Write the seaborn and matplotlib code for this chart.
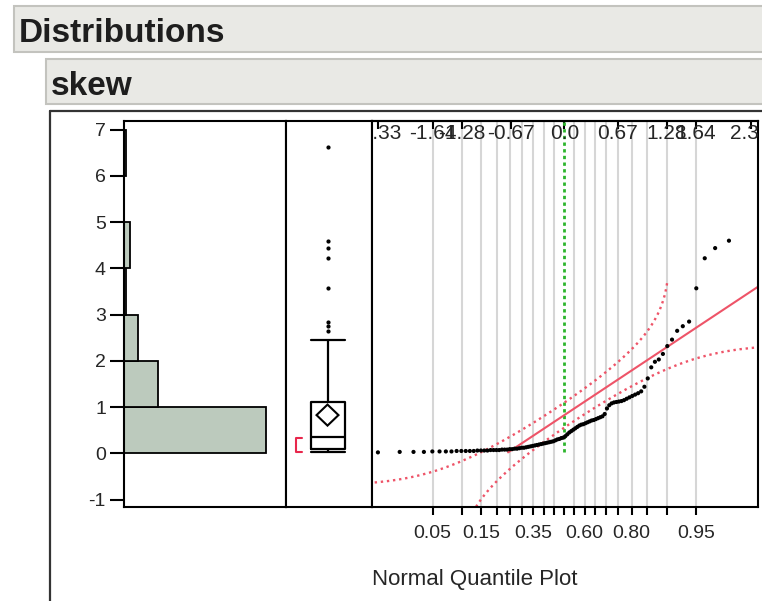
import numpy as np
import matplotlib
matplotlib.use("Agg")
import matplotlib.pyplot as plt
from matplotlib.patches import Rectangle, Polygon
from matplotlib.lines import Line2D
from matplotlib import cbook
import seaborn as sns
from statistics import NormalDist

# ---- data -------------------------------------------------------------
skew = [
    0.02, 0.03, 0.03, 0.03, 0.04, 0.04, 0.04, 0.04, 0.05, 0.05,
    0.05, 0.05, 0.05, 0.06, 0.06, 0.06, 0.06, 0.07, 0.07, 0.07,
    0.07, 0.08, 0.08, 0.08, 0.09, 0.09, 0.10, 0.10, 0.11, 0.12,
    0.12, 0.13, 0.14, 0.15, 0.16, 0.17, 0.18, 0.19, 0.20, 0.21,
    0.22, 0.23, 0.24, 0.25, 0.26, 0.28, 0.30, 0.31, 0.33, 0.34,
    0.37, 0.41, 0.45, 0.48, 0.51, 0.54, 0.57, 0.60, 0.62, 0.63,
    0.65, 0.67, 0.69, 0.71, 0.72, 0.74, 0.76, 0.78, 0.80, 0.85,
    0.97, 1.04, 1.08, 1.10, 1.11, 1.12, 1.13, 1.15, 1.18, 1.21,
    1.24, 1.27, 1.30, 1.34, 1.44, 1.62, 1.86, 1.98, 2.03, 2.15,
    2.32, 2.46, 2.65, 2.75, 2.85, 3.57, 4.22, 4.44, 4.60, 6.62,
]
bin_edges = [0, 1, 2, 3, 4, 5, 6, 7]
value_ticks = [-1, 0, 1, 2, 3, 4, 5, 6, 7]
prob_grid = [0.05, 0.10, 0.15, 0.20, 0.25, 0.30, 0.35, 0.40, 0.45, 0.50,
             0.55, 0.60, 0.65, 0.70, 0.75, 0.80, 0.85, 0.90, 0.95]
prob_labelled = ["0.05", "0.15", "0.35", "0.60", "0.80", "0.95"]
z_ticks = [-2.33, -1.64, -1.28, -0.67, 0.0, 0.67, 1.28, 1.64, 2.33]
z_tick_labels = ["-2.33", "-1.64", "-1.28", "-0.67", "0.0", "0.67", "1.28", "1.64", "2.33"]
lilliefors_d = 0.093

# ---- style ------------------------------------------------------------
sns.set_theme(style="white")
plt.rcParams["font.family"] = ["Liberation Sans", "DejaVu Sans"]

BAR = "#bccabd"
RED = "#ee5468"
GREEN = "#2db52d"
GRID = "#d6d6d6"
TXT = "#262626"

W, H = 762, 601
fig = plt.figure(figsize=(W / 100, H / 100), dpi=100)
fig.patch.set_facecolor("white")


def fx(px):
    return px / W


def fy(py):
    return 1 - py / H


def frac_rect(x0, y0, x1, y1):
    return [fx(x0), fy(y1), fx(x1) - fx(x0), fy(y0) - fy(y1)]


# ---- report headers ---------------------------------------------------
for (x0, y0, y1, base, label) in [(14, 6, 52, 42, "Distributions"),
                                   (46, 59, 104, 95, "skew")]:
    fig.add_artist(Rectangle((fx(x0), fy(y1)), fx(780) - fx(x0), fy(y0) - fy(y1),
                             transform=fig.transFigure, facecolor="#e9e9e5",
                             edgecolor="#c3c3be", lw=1.5))
    fig.text(fx(x0 + 5), fy(base), label, fontsize=24, fontweight="bold",
             color="#1e1e1e", ha="left", va="baseline")

# outline of the distribution report
fig.add_artist(Line2D([fx(50), fx(50)], [fy(111), fy(620)], transform=fig.transFigure,
                      color="#333333", lw=1.6))
fig.add_artist(Line2D([fx(50), fx(780)], [fy(111), fy(111)], transform=fig.transFigure,
                      color="#333333", lw=1.6))

data = np.sort(np.asarray(skew, dtype=float))
n = len(data)
ylim = (-1.162, 7.19)
nd = NormalDist()
inv = np.vectorize(nd.inv_cdf)

# ---- histogram --------------------------------------------------------
ax_h = fig.add_axes(frac_rect(124, 121, 286, 507))
sns.histplot(y=data, bins=bin_edges, ax=ax_h, color=BAR, edgecolor="black",
             linewidth=1.3, alpha=1.0, stat="count")
ax_h.set_xlim(0, 81)
ax_h.set_ylim(*ylim)
ax_h.set_yticks(value_ticks)
ax_h.set_yticklabels([str(v) for v in value_ticks])
ax_h.set_xticks([])
ax_h.set_xlabel("")
ax_h.set_ylabel("")
ax_h.tick_params(axis="y", direction="out", length=10, width=1.5, labelsize=14,
                 labelcolor=TXT, color="black", pad=3, left=True)

# ---- outlier box plot -------------------------------------------------
ax_b = fig.add_axes(frac_rect(286, 121, 372, 507))
box_w = 0.4
sns.boxplot(y=data, ax=ax_b, whis=1.5, width=box_w, fill=False, color="black",
            linecolor="black", linewidth=1.6, showcaps=False, fliersize=2.0,
            flierprops=dict(marker="o", markerfacecolor="black", markeredgecolor="black"))
stats = cbook.boxplot_stats(data, whis=1.5)[0]
for yv in (stats["whislo"], stats["whishi"]):
    ax_b.plot([-box_w / 2, box_w / 2], [yv, yv], color="black", lw=1.6)

# mean diamond (95% confidence interval of the mean)
mean = data.mean()
sd = data.std(ddof=1)
half_ci = 1.984 * sd / np.sqrt(n)
dw = 0.129
ax_b.add_patch(Polygon([(-dw, mean), (0, mean + half_ci), (dw, mean), (0, mean - half_ci)],
                       closed=True, fill=False, edgecolor="black", lw=1.5, zorder=4))

# shortest half bracket
k = n // 2
spans = data[k - 1:] - data[:n - k + 1]
i0 = int(np.argmin(spans))
s_lo, s_hi = data[i0], data[i0 + k - 1]
bx0, bx1 = -0.371, -0.30
ax_b.plot([bx1, bx0, bx0, bx1], [s_lo, s_lo, s_hi, s_hi], color="#e8274c", lw=1.5)

span = box_w * 86 / 34
ax_b.set_xlim(-0.4826 * span, (1 - 0.4826) * span)
ax_b.set_ylim(*ylim)
ax_b.set_xticks([])
ax_b.set_yticks([])
ax_b.set_xlabel("")
ax_b.set_ylabel("")

# ---- normal quantile plot ---------------------------------------------
ax_q = fig.add_axes(frac_rect(372, 121, 758, 507))
ax_q.set_xlim(-2.404, 2.421)
ax_q.set_ylim(*ylim)

grid_z = inv(np.array(prob_grid))
for p, z in zip(prob_grid, grid_z):
    if abs(p - 0.5) > 1e-9:
        ax_q.axvline(z, color=GRID, lw=1.5, zorder=0)
ax_q.plot([0, 0], [data.min(), ylim[1]], color=GREEN, lw=2.0,
          linestyle=(0, (1.2, 1.2)), zorder=1)

# Lilliefors confidence bands
p_up = np.linspace(0.0005, 0.9015, 400)
ax_q.plot(inv(p_up), mean + sd * inv(p_up + lilliefors_d), color=RED, lw=1.7,
          linestyle=(0, (1, 1.6)), zorder=2)
p_lo = np.linspace(lilliefors_d + 0.0002, 0.9995, 400)
ax_q.plot(inv(p_lo), mean + sd * inv(p_lo - lilliefors_d), color=RED, lw=1.7,
          linestyle=(0, (1, 1.6)), zorder=2)

# fitted normal line
z_start = (data.min() - mean) / sd
zz = np.array([z_start, 2.6])
ax_q.plot(zz, mean + sd * zz, color=RED, lw=1.5, zorder=2)

# sample quantiles at i/(n+1)
ranks = np.arange(1, n + 1) / (n + 1)
zq = inv(ranks)
sns.scatterplot(x=zq[:-1], y=data[:-1], ax=ax_q, color="black", s=9,
                edgecolor="none", linewidth=0, zorder=3)

ax_q.set_xticks(grid_z)
ax_q.set_xticklabels([f"{p:.2f}" if f"{p:.2f}" in prob_labelled else "" for p in prob_grid])
ax_q.set_yticks([])
ax_q.tick_params(axis="x", direction="out", length=6, width=1.5, labelsize=14,
                 labelcolor=TXT, color="black", pad=7, bottom=True)
ax_q.set_xlabel("")
ax_q.set_ylabel("")

top = ax_q.secondary_xaxis("top")
top.set_xticks(z_ticks)
top.set_xticklabels([])
top.tick_params(direction="in", length=6, width=1.5, color="black")
top.spines["top"].set_linewidth(1.5)
top.spines["top"].set_color("black")
for z, lab in zip(z_ticks, z_tick_labels):
    ax_q.text(z, 0.968, lab, transform=ax_q.get_xaxis_transform(), ha="center",
              va="center", fontsize=15, color=TXT, clip_on=True, zorder=5)

fig.text(fx(372), fy(580), "Normal Quantile Plot", fontsize=16, color=TXT,
         ha="left", va="center")

for ax in (ax_h, ax_b, ax_q):
    for sp in ax.spines.values():
        sp.set_visible(True)
        sp.set_color("black")
        sp.set_linewidth(1.5)

fig.savefig("out.png", dpi=100, facecolor="white")
